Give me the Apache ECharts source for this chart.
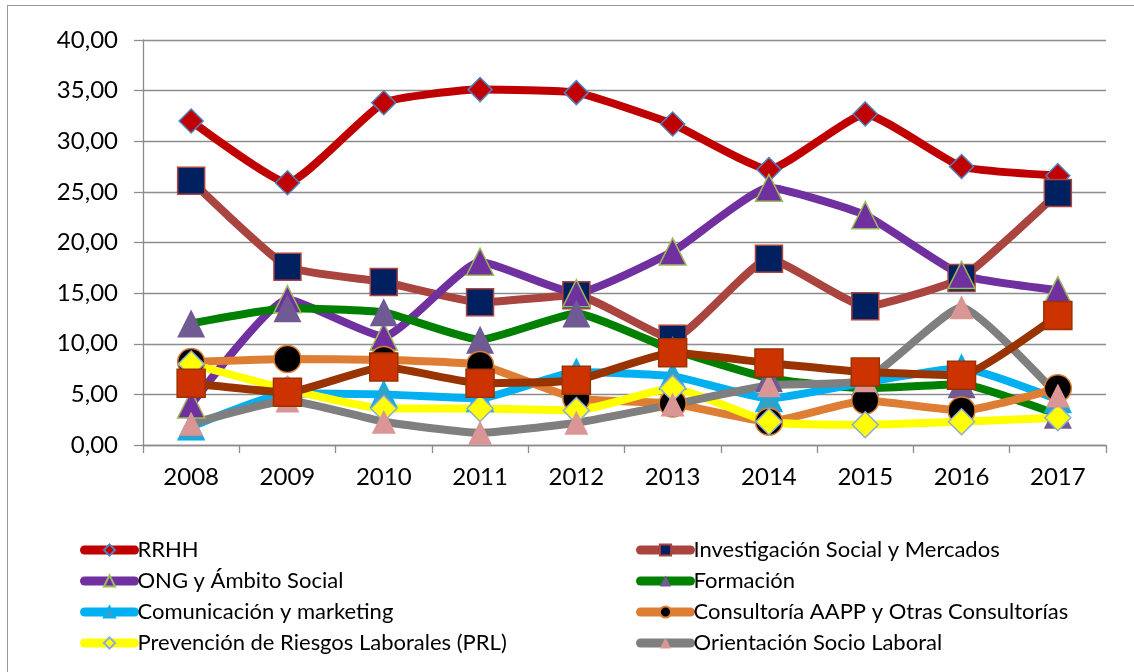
<!DOCTYPE html>
<html>
<head>
<meta charset="utf-8">
<script src="https://cdn.jsdelivr.net/npm/echarts@6/dist/echarts.min.js"></script>
<style>
  html, body { margin: 0; padding: 0; background: #fff; }
  #frame { position: absolute; left: 7px; top: 5px; width: 1140px; height: 680px; border: 1.5px solid #9a9a9a; }
  #chart { position: absolute; left: 0; top: 0; width: 1134px; height: 672px; }
</style>
</head>
<body>
<div id="frame"></div>
<div id="chart"></div>
<script>
var years = ['2008', '2009', '2010', '2011', '2012', '2013', '2014', '2015', '2016', '2017'];

var rrhh = [32.0, 25.9, 33.8, 35.1, 34.8, 31.7, 27.2, 32.7, 27.5, 26.6];
var investigacion = [26.1, 17.6, 16.1, 14.1, 14.8, 10.5, 18.4, 13.7, 16.5, 24.9];
var ong = [4.0, 14.4, 10.7, 18.1, 15.0, 19.1, 25.4, 22.7, 16.8, 15.3];
var formacion = [12.0, 13.5, 13.1, 10.4, 13.0, 9.4, 6.6, 5.6, 6.0, 3.0];
var comunicacion = [1.8, 5.1, 5.0, 4.6, 7.2, 6.8, 4.6, 6.2, 7.6, 4.5];
var consultoria = [8.2, 8.5, 8.4, 7.9, 4.6, 4.1, 2.3, 4.4, 3.4, 5.6];
var prl = [8.0, 5.5, 3.6, 3.6, 3.4, 5.6, 2.3, 2.0, 2.3, 2.7];
var orientacion = [2.1, 4.4, 2.3, 1.2, 2.2, 4.0, 5.9, 6.4, 13.6, 4.9];
var otros = [6.1, 5.2, 7.7, 6.1, 6.4, 9.1, 8.1, 7.2, 6.9, 12.8];

var leftNames = ['RRHH', 'ONG y Ámbito Social', 'Comunicación y marketing', 'Prevención de Riesgos Laborales (PRL)'];
var rightNames = ['Investigación Social y Mercados', 'Formación', 'Consultoría AAPP y Otras Consultorías', 'Orientación Socio Laboral'];

var font = 'Lato, "Open Sans", sans-serif';

function serie(name, data, line, symbol, size, fill, border) {
  return {
    name: name,
    type: 'line',
    data: data,
    smooth: 0.15,
    symbol: symbol,
    symbolSize: size,
    lineStyle: { color: line, width: 8 },
    itemStyle: { color: fill, borderColor: border || fill, borderWidth: border ? 1.5 : 0 },
    emphasis: { disabled: true }
  };
}

var legendText = { fontSize: 22, lineHeight: 22, color: '#000', fontFamily: font, padding: [0, 0, 0, -2] };

var chart = echarts.init(document.getElementById('chart'), null, { renderer: 'canvas' });
chart.setOption({
  animation: false,
  textStyle: { fontFamily: font },
  grid: { left: 143, right: 28, top: 40, height: 405 },
  legend: [
    {
      data: leftNames, orient: 'vertical', left: 75, top: 534,
      itemWidth: 50, itemHeight: 14, itemGap: 9,
      lineStyle: { width: 9, cap: 'round' },
      textStyle: legendText
    },
    {
      data: rightNames, orient: 'vertical', left: 631, top: 534,
      itemWidth: 50, itemHeight: 14, itemGap: 9,
      lineStyle: { width: 9, cap: 'round' },
      textStyle: legendText
    }
  ],
  xAxis: {
    type: 'category',
    data: years,
    boundaryGap: true,
    axisLine: { lineStyle: { color: '#8c8c8c', width: 1.3 } },
    axisTick: { show: true, length: 8, lineStyle: { color: '#8c8c8c', width: 1.3 } },
    axisLabel: { color: '#000', fontSize: 24, margin: 20, fontFamily: font }
  },
  yAxis: {
    type: 'value',
    min: 0, max: 40, interval: 5,
    axisLine: { show: true, lineStyle: { color: '#8c8c8c', width: 1.3 } },
    axisTick: { show: true, length: 9, lineStyle: { color: '#8c8c8c', width: 1.3 } },
    splitLine: { lineStyle: { color: '#8c8c8c', width: 1.3 } },
    axisLabel: {
      color: '#000', fontSize: 24, margin: 25, fontFamily: font,
      formatter: function(v) { return v.toFixed(2).replace('.', ','); }
    }
  },
  series: [
    serie('RRHH', rrhh, '#C00000', 'diamond', 24, '#C00000', '#4F81BD'),
    serie('Investigación Social y Mercados', investigacion, '#A9443F', 'rect', 27, '#002060', '#A9443F'),
    serie('ONG y Ámbito Social', ong, '#7030A0', 'triangle', 27, '#7030A0', '#9BBB59'),
    serie('Formación', formacion, '#008000', 'triangle', 28, '#6F5A94'),
    serie('Comunicación y marketing', comunicacion, '#00B0F0', 'triangle', 26, '#31A2C8', '#00B0F0'),
    serie('Consultoría AAPP y Otras Consultorías', consultoria, '#DE7E35', 'circle', 27, '#000000', '#DE7E35'),
    serie('Prevención de Riesgos Laborales (PRL)', prl, '#FFFF00', 'diamond', 26, '#FFFF00', '#8EA9DB'),
    serie('Orientación Socio Laboral', orientacion, '#7F7F7F', 'triangle', 24, '#D99694'),
    serie('Otros', otros, '#993300', 'rect', 28, '#CC3300', '#993300')
  ]
});
</script>
</body>
</html>
